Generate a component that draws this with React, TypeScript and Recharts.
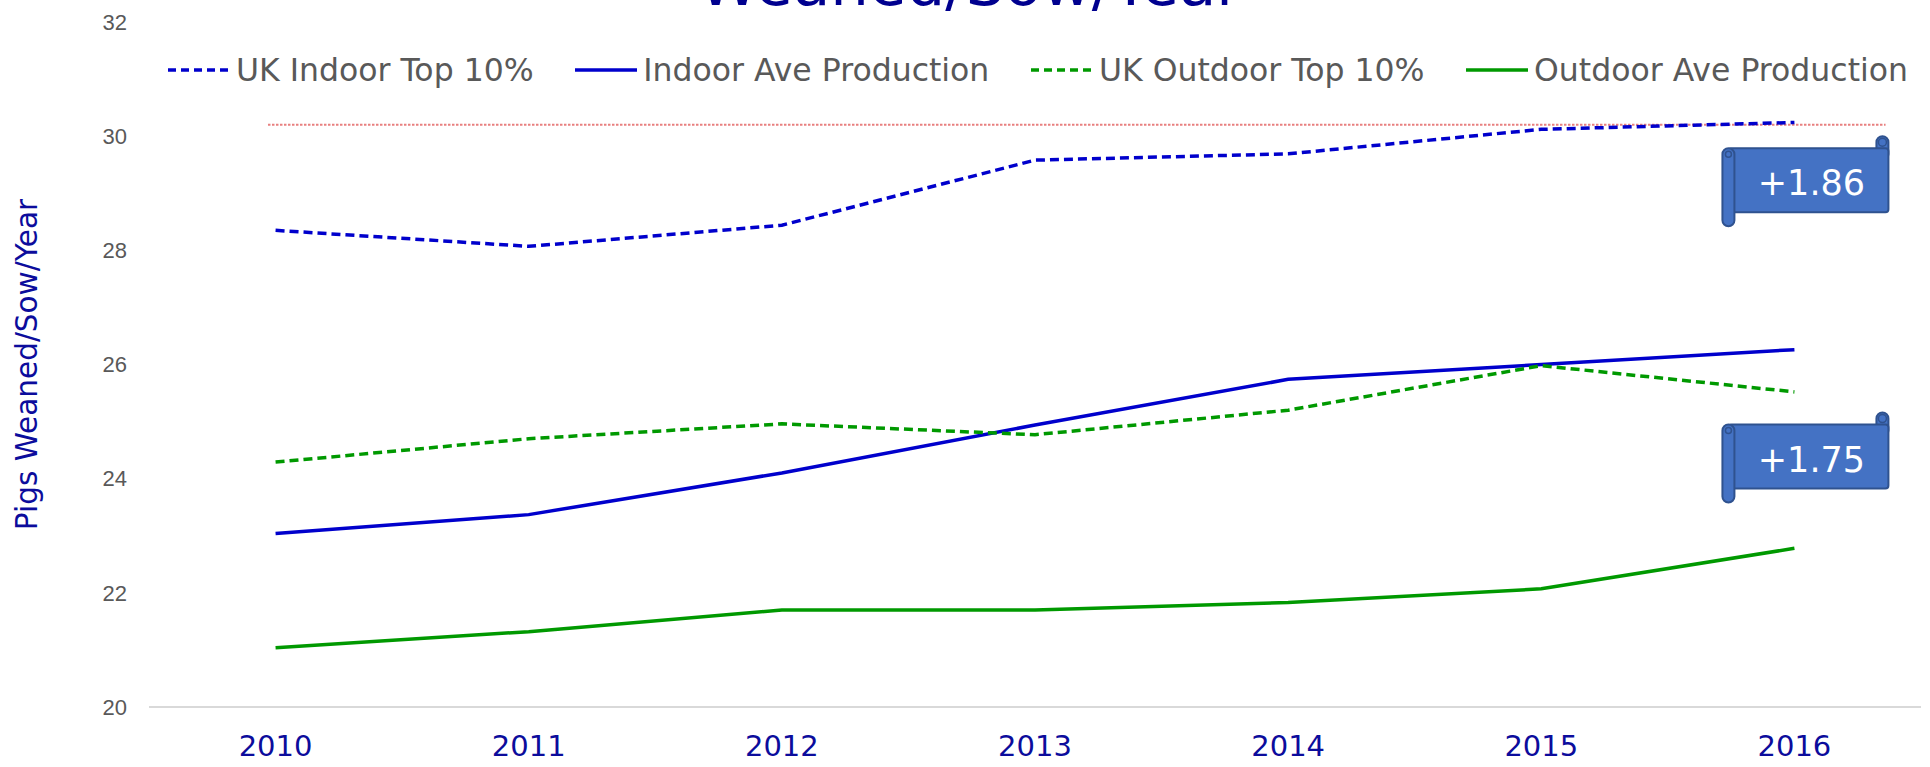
import { LineChart, Line, XAxis, YAxis, Legend, ReferenceLine, ReferenceDot } from "recharts"

// values
const years = [2010, 2011, 2012, 2013, 2014, 2015, 2016]
const indoorTop10 = [28.35, 28.07, 28.44, 29.58, 29.69, 30.12, 30.24]
const indoorAve = [23.04, 23.37, 24.1, 24.94, 25.74, 26.0, 26.26]
const outdoorTop10 = [24.29, 24.7, 24.96, 24.77, 25.2, 25.98, 25.52]
const outdoorAve = [21.04, 21.32, 21.7, 21.7, 21.83, 22.07, 22.78]
const yTicks = [20, 22, 24, 26, 28, 30, 32]

// dotted target line and the two scroll call-outs
const targetLevel = 30.2
const targetFrom = 2009.97
const targetTo = 2016.36
const callouts = [
  { text: "+1.86", year: 2016, y: 29.21 },
  { text: "+1.75", year: 2016, y: 24.37 },
]

const series = [
  { key: "indoorTop10", name: "UK Indoor Top 10%", color: "#0000CC", dashed: true },
  { key: "indoorAve", name: "Indoor Ave Production", color: "#0000CC", dashed: false },
  { key: "outdoorTop10", name: "UK Outdoor Top 10%", color: "#009900", dashed: true },
  { key: "outdoorAve", name: "Outdoor Ave Production", color: "#009900", dashed: false },
]

const data = years.map((year, i) => ({
  year,
  indoorTop10: indoorTop10[i],
  indoorAve: indoorAve[i],
  outdoorTop10: outdoorTop10[i],
  outdoorAve: outdoorAve[i],
}))

const FONT = "'DejaVu Sans', sans-serif"
const NAVY = "#0c0c9c"

const ScrollShape = ({ cx, cy, text }: any) => {
  // Excel style horizontal scroll, drawn around the anchor
  const L = cx - 72
  const R = cx + 94
  const T = cy - 45
  const B = cy + 45
  const ch = 12
  const fill = "#4472C4"
  const edge = "#2F528F"
  return (
    <g>
      <rect x={R - ch} y={T} width={ch} height={ch * 2} rx={ch / 2} fill={fill} stroke={edge} strokeWidth={2} />
      <rect x={L + ch / 2} y={T + ch} width={R - L - ch / 2} height={B - T - ch * 2 - 2} rx={3} fill={fill} stroke={edge} strokeWidth={2} />
      <rect x={L} y={T + ch} width={ch} height={B - T - ch} rx={ch / 2} fill={fill} stroke={edge} strokeWidth={2} />
      <circle cx={L + ch / 2} cy={T + ch + ch / 2} r={ch / 4} fill="none" stroke={edge} strokeWidth={1.5} />
      <circle cx={R - ch / 2} cy={T + ch / 2} r={ch / 3} fill="none" stroke={edge} strokeWidth={1.5} />
      <text
        x={(L + ch + R) / 2}
        y={cy + 2}
        textAnchor="middle"
        dominantBaseline="central"
        fill="#ffffff"
        fontFamily={FONT}
        fontSize={35}
      >
        {text}
      </text>
    </g>
  )
}

const LegendContent = () => (
  <div style={{ display: "flex", justifyContent: "space-between", alignItems: "center", height: 44 }}>
    {series.map((s) => (
      <div key={s.key} style={{ display: "flex", alignItems: "center" }}>
        <svg width={62} height={10}>
          <line
            x1={0}
            y1={5}
            x2={62}
            y2={5}
            stroke={s.color}
            strokeWidth={3.5}
            strokeDasharray={s.dashed ? "8 5" : undefined}
          />
        </svg>
        <span style={{ marginLeft: 6, fontFamily: FONT, fontSize: 31.5, color: "#595959", whiteSpace: "nowrap" }}>
          {s.name}
        </span>
      </div>
    ))}
  </div>
)

const YLabel = ({ viewBox }: any) => {
  const x = viewBox.x + 27
  const y = viewBox.y + viewBox.height / 2
  return (
    <text
      x={x}
      y={y}
      transform={`rotate(-90 ${x} ${y})`}
      textAnchor="middle"
      dominantBaseline="central"
      fill={NAVY}
      fontFamily={FONT}
      fontSize={29.5}
    >
      Pigs Weaned/Sow/Year
    </text>
  )
}

export default function App() {
  return (
    <div style={{ position: "absolute", left: 0, top: 0, width: 1930, height: 767, background: "#fff" }}>
      <LineChart width={1930} height={767} data={data} margin={{ top: 22, right: 9, bottom: 0, left: 0 }}>
        <XAxis
          dataKey="year"
          type="number"
          domain={[2009.5, 2016.5]}
          ticks={years}
          height={60}
          axisLine={{ stroke: "#D9D9D9", strokeWidth: 2 }}
          tickLine={false}
          tickSize={0}
          tickMargin={28}
          tick={{ fill: NAVY, fontFamily: FONT, fontSize: 29 }}
        />
        <YAxis
          domain={[20, 32]}
          ticks={yTicks}
          width={149}
          axisLine={false}
          tickLine={false}
          tickSize={0}
          tickMargin={22}
          tick={{ fill: "#595959", fontFamily: "'Liberation Sans', Arial, sans-serif", fontSize: 22 }}
          label={<YLabel />}
        />
        <Legend
          verticalAlign="middle"
          align="center"
          layout="horizontal"
          wrapperStyle={{ top: 48, left: 168, width: 1740, height: 44 }}
          content={<LegendContent />}
        />
        <ReferenceLine
          segment={[
            { x: targetFrom, y: targetLevel },
            { x: targetTo, y: targetLevel },
          ]}
          stroke="#E88080"
          strokeWidth={2}
          strokeDasharray="2.5 1.5"
          ifOverflow="extendDomain"
        />
        {series.map((s) => (
          <Line
            key={s.key}
            type="linear"
            dataKey={s.key}
            name={s.name}
            stroke={s.color}
            strokeWidth={3.5}
            strokeDasharray={s.dashed ? "9 5" : undefined}
            dot={false}
            activeDot={false}
            isAnimationActive={false}
          />
        ))}
        {callouts.map((c) => (
          <ReferenceDot
            key={c.text}
            x={c.year}
            y={c.y}
            r={0}
            shape={(p: any) => <ScrollShape cx={p.cx} cy={p.cy} text={c.text} />}
          />
        ))}
      </LineChart>
      <svg style={{ position: "absolute", left: 0, top: 0 }} width={1930} height={40}>
        <text x={970} y={5} textAnchor="middle" fill="#00008f" fontFamily={FONT} fontSize={61}>
          Weaned/Sow/Year
        </text>
      </svg>
    </div>
  )
}
